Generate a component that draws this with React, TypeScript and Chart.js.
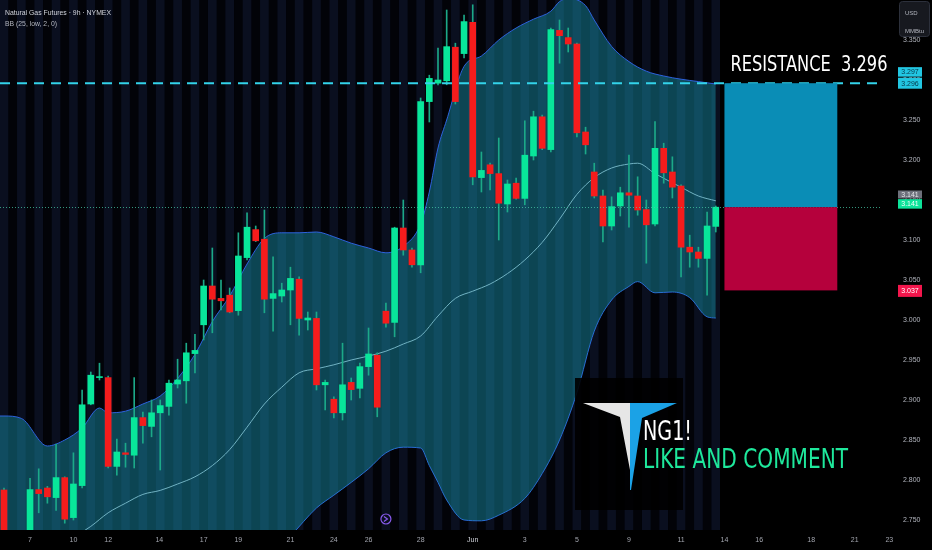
import React, { useEffect, useRef } from 'react';
import { Chart, registerables } from 'chart.js';

Chart.register(...registerables);

// ---- Candles (9h bars, Natural Gas Futures) ----
const openPrices = [
  2.7875, 2.72, 2.70, 2.715, 2.788, 2.790, 2.778, 2.803, 2.753, 2.793,
  2.895, 2.928, 2.928, 2.817, 2.834, 2.831, 2.878, 2.867, 2.884, 2.892,
  2.920, 2.924, 2.958, 2.994, 3.0425, 3.027, 3.031, 3.0117, 3.078, 3.113,
  3.101, 3.027, 3.030, 3.0375, 3.051, 3.0, 3.002, 2.919, 2.901, 2.884,
  2.922, 2.9146, 2.9417, 2.956, 3.011, 2.997, 3.115, 3.0875, 3.069, 3.273,
  3.296, 3.299, 3.341, 3.333, 3.372, 3.178, 3.194, 3.183, 3.145, 3.171,
  3.152, 3.205, 3.254, 3.213, 3.362, 3.353, 3.345, 3.235, 3.185, 3.155,
  3.1175, 3.1425, 3.159, 3.155, 3.138, 3.12, 3.2146, 3.185, 3.1675, 3.091,
  3.085, 3.077, 3.117,
];
const highPrices = [
  2.79, 2.73, 2.725, 2.802, 2.814, 2.792, 2.845, 2.804, 2.834, 2.9125,
  2.935, 2.946, 2.93, 2.851, 2.846, 2.928, 2.885, 2.900, 2.90, 2.925,
  2.951, 2.971, 2.982, 3.05, 3.09, 3.05, 3.04, 3.109, 3.134, 3.1175,
  3.1375, 3.079, 3.046, 3.066, 3.054, 3.01, 3.01, 2.925, 2.904, 2.971,
  2.9275, 2.946, 2.99, 2.959, 3.021, 3.116, 3.15, 3.09, 3.2775, 3.306,
  3.34, 3.3875, 3.346, 3.381, 3.394, 3.21, 3.196, 3.2275, 3.175, 3.1775,
  3.249, 3.261, 3.256, 3.365, 3.375, 3.365, 3.346, 3.241, 3.196, 3.1625,
  3.154, 3.166, 3.206, 3.179, 3.15, 3.248, 3.221, 3.204, 3.169, 3.106,
  3.091, 3.135, 3.1425,
];
const lowPrices = [
  2.70, 2.69, 2.69, 2.71, 2.759, 2.771, 2.762, 2.746, 2.75, 2.79,
  2.894, 2.925, 2.815, 2.806, 2.816, 2.815, 2.846, 2.854, 2.8125, 2.881,
  2.915, 2.896, 2.934, 2.975, 2.984, 3.0125, 3.009, 3.006, 3.075, 3.098,
  3.009, 2.986, 3.0225, 2.994, 2.981, 2.9875, 2.9125, 2.8875, 2.8775, 2.875,
  2.90, 2.9025, 2.931, 2.879, 2.991, 2.979, 3.081, 3.066, 3.059, 3.2475,
  3.294, 3.294, 3.27, 3.3275, 3.169, 3.16, 3.1625, 3.10, 3.135, 3.151,
  3.144, 3.20, 3.213, 3.21, 3.321, 3.335, 3.229, 3.2075, 3.1525, 3.0975,
  3.1125, 3.13, 3.116, 3.131, 3.071, 3.1175, 3.171, 3.1525, 3.054, 3.066,
  3.066, 3.031, 3.11,
];
const closePrices = [
  2.72, 2.70, 2.715, 2.788, 2.783, 2.779, 2.803, 2.751, 2.795, 2.894,
  2.931, 2.929, 2.817, 2.835, 2.832, 2.878, 2.868, 2.884, 2.893, 2.921,
  2.925, 2.959, 2.962, 3.0425, 3.026, 3.024, 3.010, 3.08, 3.116, 3.099,
  3.026, 3.033, 3.0375, 3.052, 3.002, 3.0025, 2.919, 2.922, 2.884, 2.919,
  2.913, 2.9417, 2.9575, 2.891, 2.996, 3.115, 3.0875, 3.069, 3.273, 3.302,
  3.30, 3.3417, 3.273, 3.373, 3.179, 3.187, 3.183, 3.146, 3.17, 3.152,
  3.206, 3.254, 3.2146, 3.363, 3.3554, 3.345, 3.234, 3.219, 3.155, 3.1175,
  3.1417, 3.159, 3.156, 3.1375, 3.119, 3.2146, 3.184, 3.166, 3.091, 3.085,
  3.077, 3.1175, 3.141,
];

// ---- Bollinger Bands (25, low, 2, 0), read at bar indices ----
const upperIdx = [-1, 0, 2, 5, 7, 9, 11, 12, 14, 16, 18, 20, 22, 24, 26, 28, 30, 32, 34, 36, 38, 40, 42, 44, 46, 48, 49, 50, 51, 53, 55, 57, 59, 61, 63, 64, 65, 67, 68, 70, 72, 74, 76, 78, 80, 82];
const upperVal = [2.88, 2.88, 2.877, 2.8425, 2.85, 2.865, 2.89, 2.884, 2.886, 2.895, 2.905, 2.927, 2.957, 2.998, 3.03, 3.07, 3.102, 3.109, 3.109, 3.11, 3.104, 3.096, 3.09, 3.084, 3.092, 3.12, 3.16, 3.215, 3.25, 3.317, 3.33, 3.35, 3.365, 3.376, 3.386, 3.398, 3.402, 3.393, 3.375, 3.342, 3.323, 3.311, 3.305, 3.301, 3.298, 3.295];
const basisIdx = [-1, 4, 8, 10, 12, 14, 16, 18, 20, 22, 24, 26, 28, 30, 32, 34, 36, 38, 40, 42, 44, 46, 48, 50, 52, 54, 56, 58, 60, 62, 64, 66, 68, 70, 72, 73, 75, 78, 80, 82];
const basisVal = [2.67, 2.70, 2.728, 2.742, 2.759, 2.771, 2.782, 2.787, 2.795, 2.804, 2.818, 2.838, 2.866, 2.895, 2.916, 2.934, 2.939, 2.944, 2.95, 2.955, 2.961, 2.97, 2.98, 3.005, 3.027, 3.036, 3.045, 3.058, 3.075, 3.097, 3.126, 3.157, 3.178, 3.19, 3.195, 3.196, 3.183, 3.166, 3.155, 3.149];
const lowerIdx = [-1, 10, 20, 28, 33, 36, 38, 40, 42, 44, 46, 48, 49, 50, 51, 53, 55, 57, 60, 62, 64, 66, 68, 70, 72, 73, 75, 77, 79, 81, 82];
const lowerVal = [2.56, 2.58, 2.62, 2.68, 2.73, 2.765, 2.781, 2.797, 2.814, 2.834, 2.841, 2.84, 2.818, 2.797, 2.775, 2.75, 2.749, 2.756, 2.777, 2.808, 2.85, 2.909, 2.986, 3.025, 3.042, 3.048, 3.034, 3.035, 3.028, 3.004, 3.0025];

// ---- Axes ----
const xTickPositions = [3, 8, 12, 17.9, 23, 27, 33, 38, 42, 48, 54, 60, 66, 72, 78, 83, 87, 93, 98, 102];
const xTickLabels = ['7', '10', '12', '14', '17', '19', '21', '24', '26', '28', 'Jun', '3', '5', '9', '11', '14', '16', '18', '21', '23'];
const yTickValues = [2.75, 2.8, 2.85, 2.9, 2.95, 3.0, 3.05, 3.1, 3.15, 3.2, 3.25, 3.3, 3.35];
const xMin = -0.46;
const xMax = 100.92;
const yMin = 2.7375;
const yMax = 3.4;

// ---- Position / annotations ----
const entryPrice = 3.141;
const targetPrice = 3.296;
const stopPrice = 3.037;
const prevTagPrice = 3.297;
const boxStart = 83;
const boxEnd = 96;
const eventBar = 44;

const GREEN = '#08e69a';
const RED = '#f51c1c';
const WICK = '#1ca888';
const BAND = '#2d62dc';
const BASIS = '#b9c8d2';
const FILL = 'rgba(24,150,175,0.45)';
const FONT = '"Liberation Sans", Arial, sans-serif';

function fitText(ctx: any, text: string, left: number, baseline: number, cap: number, width: number, color: string, family = '"DejaVu Sans"', weight = 'normal') {
  const size = cap / 0.73;
  ctx.save();
  ctx.font = `${weight} ${size}px ${family}`;
  const w = ctx.measureText(text).width;
  ctx.translate(left, baseline);
  ctx.scale(width / w, 1);
  ctx.fillStyle = color;
  ctx.textBaseline = 'alphabetic';
  ctx.textAlign = 'left';
  ctx.fillText(text, 0, 0);
  ctx.restore();
}

function tag(ctx: any, yc: number, h: number, bg: string, fg: string, text: string) {
  ctx.save();
  ctx.fillStyle = bg;
  ctx.fillRect(898, yc - h / 2, 24, h);
  ctx.fillStyle = fg;
  ctx.font = `7px ${FONT}`;
  ctx.textAlign = 'center';
  ctx.textBaseline = 'middle';
  ctx.fillText(text, 910, yc + 0.5);
  ctx.restore();
}

const overlayPlugin = {
  id: 'tvOverlay',
  beforeDraw(chart: any) {
    const { ctx, chartArea: ca, scales } = chart;
    const x = scales.x;
    ctx.save();
    ctx.fillStyle = '#000';
    ctx.fillRect(0, 0, chart.width, chart.height);
    const step = x.getPixelForValue(1) - x.getPixelForValue(0);
    const lastPx = x.getPixelForValue(openPrices.length - 1) + step / 2;
    ctx.beginPath();
    ctx.rect(ca.left, ca.top, lastPx - ca.left, ca.bottom - ca.top);
    ctx.clip();
    for (let i = -1; i < openPrices.length; i++) {
      const cx = x.getPixelForValue(i);
      ctx.fillStyle = i % 2 === 0 ? '#0a0f1f' : '#020308';
      ctx.fillRect(cx - step / 2, ca.top, step + 0.5, ca.bottom - ca.top);
    }
    ctx.restore();
  },
  afterDatasetsDraw(chart: any) {
    const { ctx, chartArea: ca, scales } = chart;
    const x = scales.x;
    const y = scales.y;
    ctx.save();
    // last price dotted line
    ctx.strokeStyle = 'rgba(70,200,165,0.75)';
    ctx.lineWidth = 1;
    ctx.setLineDash([1, 2]);
    ctx.beginPath();
    ctx.moveTo(ca.left, Math.round(y.getPixelForValue(entryPrice)) + 0.5);
    ctx.lineTo(ca.right, Math.round(y.getPixelForValue(entryPrice)) + 0.5);
    ctx.stroke();
    // resistance dashed line
    ctx.strokeStyle = '#33d3ea';
    ctx.lineWidth = 2;
    ctx.setLineDash([10, 7]);
    ctx.beginPath();
    ctx.moveTo(ca.left, y.getPixelForValue(targetPrice));
    ctx.lineTo(ca.right, y.getPixelForValue(targetPrice));
    ctx.stroke();
    ctx.setLineDash([]);
    // long position box
    const bx0 = x.getPixelForValue(boxStart);
    const bx1 = x.getPixelForValue(boxEnd);
    const yT = y.getPixelForValue(targetPrice);
    const yE = y.getPixelForValue(entryPrice);
    const yS = y.getPixelForValue(stopPrice);
    ctx.fillStyle = '#0a8db6';
    ctx.fillRect(bx0, yT, bx1 - bx0, yE - yT);
    ctx.fillStyle = '#b5013c';
    ctx.fillRect(bx0, yE, bx1 - bx0, yS - yE);
    // resistance text
    fitText(ctx, 'RESISTANCE  3.296', bx0 + 6, yT - 12, 15, 157, '#ffffff');
    // logo panel
    ctx.fillStyle = 'rgba(0,0,0,0.9)';
    ctx.fillRect(575, 378, 108, 132);
    ctx.fillStyle = '#e6e6e6';
    ctx.beginPath();
    ctx.moveTo(583, 403);
    ctx.lineTo(630, 403);
    ctx.lineTo(630, 470);
    ctx.lineTo(620, 417);
    ctx.closePath();
    ctx.fill();
    ctx.fillStyle = '#1ba2e6';
    ctx.beginPath();
    ctx.moveTo(630, 403);
    ctx.lineTo(677, 403);
    ctx.lineTo(642, 418);
    ctx.lineTo(631, 490);
    ctx.lineTo(630, 490);
    ctx.closePath();
    ctx.fill();
    fitText(ctx, 'NG1!', 643, 440, 20, 49, '#ffffff');
    fitText(ctx, 'LIKE AND COMMENT', 643, 468, 20, 205, '#1ee89c');
    // event marker
    const ex = x.getPixelForValue(eventBar);
    ctx.strokeStyle = '#8a5cf0';
    ctx.lineWidth = 1.2;
    ctx.beginPath();
    ctx.arc(ex, 519, 5, 0, Math.PI * 2);
    ctx.stroke();
    ctx.beginPath();
    ctx.moveTo(ex - 2, 516.5);
    ctx.lineTo(ex + 1.5, 519);
    ctx.lineTo(ex - 2, 521.5);
    ctx.stroke();
    ctx.restore();
  },
  afterDraw(chart: any) {
    const { ctx, scales } = chart;
    const y = scales.y;
    ctx.save();
    // header
    fitText(ctx, 'Natural Gas Futures · 9h · NYMEX', 5, 14.7, 5.3, 106, '#d1d4dc', FONT);
    fitText(ctx, 'BB (25, low, 2, 0)', 5, 25.8, 5.3, 52, '#b2b5be', FONT);
    // price tags
    const yT = y.getPixelForValue(targetPrice);
    const yE = y.getPixelForValue(entryPrice);
    const yS = y.getPixelForValue(stopPrice);
    tag(ctx, yT - 11.3, 9.5, '#22c6e2', '#07384a', prevTagPrice.toFixed(3));
    tag(ctx, yT, 11, '#22c6e2', '#07384a', targetPrice.toFixed(3));
    tag(ctx, yE - 12.7, 8, '#6d707b', '#e3e5ea', entryPrice.toFixed(3));
    tag(ctx, yE - 3.3, 9.5, '#0de39a', '#f2fff9', entryPrice.toFixed(3));
    tag(ctx, yS + 0.5, 12, '#f3164c', '#ffffff', stopPrice.toFixed(3));
    // unit box
    ctx.fillStyle = '#17191f';
    ctx.strokeStyle = '#2c303b';
    ctx.lineWidth = 1;
    ctx.beginPath();
    ctx.roundRect(899.5, 1.5, 30, 35, 3);
    ctx.fill();
    ctx.stroke();
    ctx.fillStyle = '#b2b5be';
    ctx.font = `6px ${FONT}`;
    ctx.textAlign = 'left';
    ctx.textBaseline = 'alphabetic';
    ctx.fillText('USD', 905, 15);
    ctx.fillText('MMBtu', 905, 32.5);
    ctx.restore();
  },
};

export default function App() {
  const ref = useRef<HTMLCanvasElement>(null);
  useEffect(() => {
    const idx = openPrices.map((_, i) => i);
    const up = (i: number) => closePrices[i] >= openPrices[i];
    const chart = new Chart(ref.current as HTMLCanvasElement, {
      type: 'bar',
      data: {
        datasets: [
          {
            type: 'bar',
            label: 'body',
            data: idx.map((i) => ({ x: i, y: [openPrices[i], closePrices[i]] })) as any,
            backgroundColor: idx.map((i) => (up(i) ? GREEN : RED)),
            barThickness: 6,
            grouped: false,
            minBarLength: 1,
            borderWidth: 0,
            order: 0,
          } as any,
          {
            type: 'bar',
            label: 'wick',
            data: idx.map((i) => ({ x: i, y: [lowPrices[i], highPrices[i]] })) as any,
            backgroundColor: WICK,
            barThickness: 1,
            grouped: false,
            borderWidth: 0,
            order: 1,
          } as any,
          {
            type: 'line',
            label: 'upper',
            data: upperIdx.map((v, k) => ({ x: v, y: upperVal[k] })),
            borderColor: BAND,
            borderWidth: 1,
            pointRadius: 0,
            cubicInterpolationMode: 'monotone',
            fill: '+2',
            backgroundColor: FILL,
            order: 2,
          } as any,
          {
            type: 'line',
            label: 'basis',
            data: basisIdx.map((v, k) => ({ x: v, y: basisVal[k] })),
            borderColor: BASIS,
            borderWidth: 1,
            pointRadius: 0,
            cubicInterpolationMode: 'monotone',
            fill: false,
            order: 3,
          } as any,
          {
            type: 'line',
            label: 'lower',
            data: lowerIdx.map((v, k) => ({ x: v, y: lowerVal[k] })),
            borderColor: BAND,
            borderWidth: 1,
            pointRadius: 0,
            cubicInterpolationMode: 'monotone',
            fill: false,
            order: 4,
          } as any,
        ],
      },
      options: {
        responsive: false,
        animation: false,
        devicePixelRatio: 1,
        events: [],
        layout: { padding: 0, autoPadding: false },
        plugins: {
          legend: { display: false },
          tooltip: { enabled: false },
          title: { display: false },
        },
        scales: {
          x: {
            type: 'linear',
            min: xMin,
            max: xMax,
            offset: false,
            grid: { display: false, drawTicks: false, offset: false },
            border: { display: false },
            afterBuildTicks: (s: any) => {
              s.ticks = xTickPositions.map((v) => ({ value: v }));
            },
            afterFit: (s: any) => {
              s.height = 20;
              s.paddingLeft = 0;
              s.paddingRight = 0;
              s.paddingTop = 0;
              s.paddingBottom = 0;
            },
            ticks: {
              autoSkip: false,
              maxRotation: 0,
              minRotation: 0,
              padding: 6,
              font: { family: FONT, size: 7 },
              color: (c: any) => (xTickLabels[c.index] === 'Jun' ? '#d1d4dc' : '#a3a6af'),
              callback: (_v: any, i: number) => xTickLabels[i],
            },
          } as any,
          y: {
            type: 'linear',
            position: 'right',
            min: yMin,
            max: yMax,
            grid: { display: false, drawTicks: false },
            border: { display: false },
            afterBuildTicks: (s: any) => {
              s.ticks = yTickValues.map((v) => ({ value: v }));
            },
            afterFit: (s: any) => {
              s.width = 52;
              s.paddingTop = 0;
              s.paddingBottom = 0;
              s.paddingLeft = 0;
              s.paddingRight = 0;
            },
            ticks: {
              padding: 23,
              font: { family: FONT, size: 7 },
              color: '#b2b5be',
              callback: (v: any) => Number(v).toFixed(3),
            },
          } as any,
        },
      },
      plugins: [overlayPlugin],
    } as any);
    return () => chart.destroy();
  }, []);
  return (
    <div style={{ position: 'absolute', left: 0, top: 0, width: 932, height: 550, background: '#000', overflow: 'hidden' }}>
      <canvas ref={ref} width={932} height={550} style={{ display: 'block' }} />
    </div>
  );
}
